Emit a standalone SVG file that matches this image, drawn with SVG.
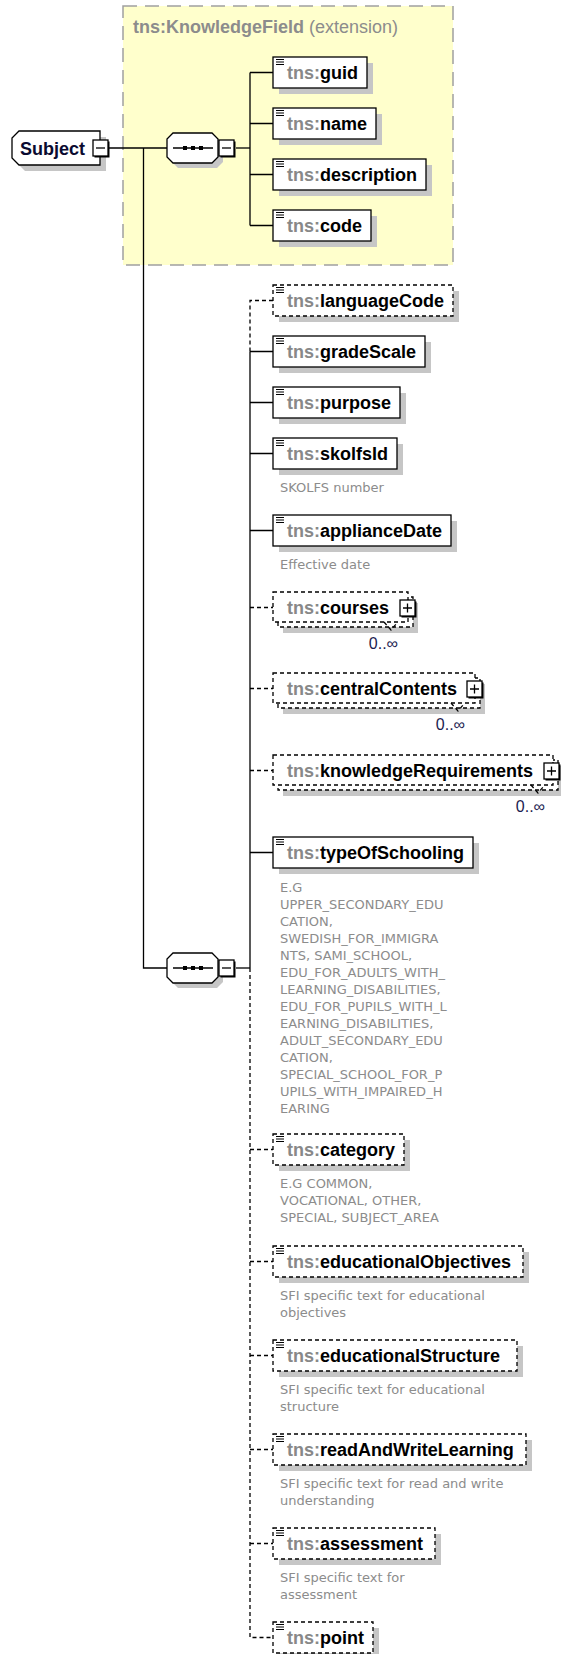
<svg xmlns="http://www.w3.org/2000/svg" xmlns:xlink="http://www.w3.org/1999/xlink" width="561" height="1654" viewBox="0 0 561 1654">
<style>
.bg{fill:#fff}
.box{fill:#fff;stroke:#000;stroke-width:1.3}
.opt{stroke-dasharray:4 3}
.sh{fill:#c6c6c6}
.ln{stroke:#000;stroke-width:1.3;fill:none}
.dl{stroke-dasharray:4 3}
.lbl{font-family:"Liberation Sans",Arial,sans-serif;font-size:18px}
.ns{fill:#888;font-weight:bold}
.nm{font-weight:bold;fill:#000}
.ann{font-family:"DejaVu Sans",Verdana,sans-serif;font-size:13px;fill:#8c8c8c}
.card{font-family:"Liberation Sans",Arial,sans-serif;font-size:16px;fill:#1c1c50}
.ttl{font-family:"Liberation Sans",Arial,sans-serif;font-size:18px;fill:#8c8c8c}
</style>
<defs>
<path id="ic" d="M0 0.5h8M0 3h8M0 5.5h8" stroke="#000" stroke-width="1.1" fill="none"/>
<g id="minus"><rect x="1.5" y="1.5" width="15" height="16" fill="#000"/><rect x="0" y="0" width="15" height="16" fill="#fff" stroke="#000" stroke-width="1.3"/><path d="M3 8h9" stroke="#000" stroke-width="1.3"/></g>
<g id="plus"><rect x="1.5" y="1.5" width="15" height="16" fill="#000"/><rect x="0" y="0" width="15" height="16" fill="#fff" stroke="#000" stroke-width="1.3"/><path d="M3 8h9M7.5 3.5v9" stroke="#000" stroke-width="1.3"/></g>
<g id="seq">
<polygon points="11,-10 50,-10 56,-4 56,14 50,20 11,20 5,14 5,-4" fill="#c6c6c6"/>
<polygon points="6,-15 45,-15 51,-9 51,9 45,15 6,15 0,9 0,-9" fill="#fff" stroke="#000" stroke-width="1.3"/>
<path d="M6 0H46" stroke="#000" stroke-width="1.3"/>
<rect x="16" y="-2" width="4" height="4" fill="#000"/><rect x="24" y="-2" width="4" height="4" fill="#000"/><rect x="32" y="-2" width="4" height="4" fill="#000"/>
<use xlink:href="#minus" x="52" y="-8"/>
</g>
</defs>
<rect class="bg" x="0" y="0" width="561" height="1654"/>

<g id="extension">
<rect x="123" y="6" width="330" height="259" fill="#ffffcc" stroke="#a0a0a0" stroke-width="1.5" stroke-dasharray="14 8"/>
<text class="ttl" x="133" y="33"><tspan font-weight="bold">tns:KnowledgeField</tspan> (extension)</text>
</g>

<g id="connectors">
<path class="ln" d="M109 148H167"/>
<path class="ln" d="M143.5 148V968H167"/>
<path class="ln" d="M236 148H250"/>
<path class="ln" d="M250 72.5V225.5M250 72.5H273M250 123.5H273M250 174.5H273M250 225.5H273"/>
<path class="ln" d="M236 968H250"/>
<path class="ln dl" d="M273 300.5H250V351.5"/>
<path class="ln" d="M250 351.5V968"/>
<path class="ln dl" d="M250 968V1637.5H273"/>
<path class="ln" d="M250 351.5H273M250 402.5H273M250 453.5H273M250 530.5H273M250 852.5H273"/>
<path class="ln dl" d="M250 607.5H273M250 688.5H273M250 770.5H273M250 1149.5H273M250 1261.5H273M250 1355.5H273M250 1449.5H273M250 1543.5H273"/>
</g>

<g id="subject">
<polygon points="25,137 106,137 106,171 25,171 18,164 18,144" fill="#c6c6c6"/>
<polygon class="box" points="19,131 100,131 100,165 19,165 12,158 12,138"/>
<text class="lbl" x="20" y="155" font-weight="bold" fill="#0a0a30">Subject</text>
<use xlink:href="#minus" x="93" y="140"/>
</g>

<g id="sequence1"><use xlink:href="#seq" x="167" y="148"/></g>
<g id="sequence2"><use xlink:href="#seq" x="167" y="968"/></g>

<g id="guid">
<rect class="sh" x="279" y="63" width="94" height="31"/>
<rect class="box" x="273" y="57" width="94" height="31"/>
<use xlink:href="#ic" x="276" y="59"/>
<text class="lbl" x="287" y="78.5"><tspan class="ns">tns:</tspan><tspan class="nm">guid</tspan></text>
</g>
<g id="name">
<rect class="sh" x="279" y="114" width="103" height="31"/>
<rect class="box" x="273" y="108" width="103" height="31"/>
<use xlink:href="#ic" x="276" y="110"/>
<text class="lbl" x="287" y="129.5"><tspan class="ns">tns:</tspan><tspan class="nm">name</tspan></text>
</g>
<g id="description">
<rect class="sh" x="279" y="165" width="153" height="31"/>
<rect class="box" x="273" y="159" width="153" height="31"/>
<use xlink:href="#ic" x="276" y="161"/>
<text class="lbl" x="287" y="180.5"><tspan class="ns">tns:</tspan><tspan class="nm">description</tspan></text>
</g>
<g id="code">
<rect class="sh" x="279" y="216" width="98" height="31"/>
<rect class="box" x="273" y="210" width="98" height="31"/>
<use xlink:href="#ic" x="276" y="212"/>
<text class="lbl" x="287" y="231.5"><tspan class="ns">tns:</tspan><tspan class="nm">code</tspan></text>
</g>

<g id="languageCode">
<rect class="sh" x="279" y="291" width="180" height="31"/>
<rect class="box opt" x="273" y="285" width="180" height="31"/>
<use xlink:href="#ic" x="276" y="287"/>
<text class="lbl" x="287" y="306.5"><tspan class="ns">tns:</tspan><tspan class="nm">languageCode</tspan></text>
</g>
<g id="gradeScale">
<rect class="sh" x="279" y="342" width="152" height="31"/>
<rect class="box" x="273" y="336" width="152" height="31"/>
<use xlink:href="#ic" x="276" y="338"/>
<text class="lbl" x="287" y="357.5"><tspan class="ns">tns:</tspan><tspan class="nm">gradeScale</tspan></text>
</g>
<g id="purpose">
<rect class="sh" x="279" y="393" width="127" height="31"/>
<rect class="box" x="273" y="387" width="127" height="31"/>
<use xlink:href="#ic" x="276" y="389"/>
<text class="lbl" x="287" y="408.5"><tspan class="ns">tns:</tspan><tspan class="nm">purpose</tspan></text>
</g>
<g id="skolfsId">
<rect class="sh" x="279" y="444" width="124" height="31"/>
<rect class="box" x="273" y="438" width="124" height="31"/>
<use xlink:href="#ic" x="276" y="440"/>
<text class="lbl" x="287" y="459.5"><tspan class="ns">tns:</tspan><tspan class="nm">skolfsId</tspan></text>
<text class="ann" x="280" y="492">SKOLFS number</text>
</g>
<g id="applianceDate">
<rect class="sh" x="279" y="521" width="178" height="31"/>
<rect class="box" x="273" y="515" width="178" height="31"/>
<use xlink:href="#ic" x="276" y="517"/>
<text class="lbl" x="287" y="536.5"><tspan class="ns">tns:</tspan><tspan class="nm">applianceDate</tspan></text>
<text class="ann" x="280" y="569">Effective date</text>
</g>

<g id="courses">
<rect class="sh" x="283" y="603" width="135" height="30"/>
<rect class="box opt" x="278" y="597" width="135" height="30"/>
<rect class="box opt" x="273" y="592" width="135" height="30"/>
<path class="ln dl" d="M384 622L391 630L397 623"/>
<text class="lbl" x="287" y="614"><tspan class="ns">tns:</tspan><tspan class="nm">courses</tspan></text>
<use xlink:href="#plus" x="400" y="600"/>
<text class="card" x="398" y="649" text-anchor="end">0..∞</text>
</g>
<g id="centralContents">
<rect class="sh" x="283" y="684" width="202" height="30"/>
<rect class="box opt" x="278" y="678" width="202" height="30"/>
<rect class="box opt" x="273" y="673" width="202" height="30"/>
<path class="ln dl" d="M451 703L458 711L464 704"/>
<text class="lbl" x="287" y="695"><tspan class="ns">tns:</tspan><tspan class="nm">centralContents</tspan></text>
<use xlink:href="#plus" x="467" y="681"/>
<text class="card" x="465" y="730" text-anchor="end">0..∞</text>
</g>
<g id="knowledgeRequirements">
<rect class="sh" x="283" y="766" width="280" height="30"/>
<rect class="box opt" x="278" y="760" width="280" height="30"/>
<rect class="box opt" x="273" y="755" width="280" height="30"/>
<path class="ln dl" d="M531 785L538 793L544 786"/>
<text class="lbl" x="287" y="777"><tspan class="ns">tns:</tspan><tspan class="nm">knowledgeRequirements</tspan></text>
<use xlink:href="#plus" x="544" y="763"/>
<text class="card" x="545" y="812" text-anchor="end">0..∞</text>
</g>

<g id="typeOfSchooling">
<rect class="sh" x="279" y="843" width="200" height="31"/>
<rect class="box" x="273" y="837" width="200" height="31"/>
<use xlink:href="#ic" x="276" y="839"/>
<text class="lbl" x="287" y="858.5"><tspan class="ns">tns:</tspan><tspan class="nm">typeOfSchooling</tspan></text>
<text class="ann" x="280" y="892"><tspan x="280">E.G</tspan><tspan x="280" dy="17">UPPER_SECONDARY_EDU</tspan><tspan x="280" dy="17">CATION,</tspan><tspan x="280" dy="17">SWEDISH_FOR_IMMIGRA</tspan><tspan x="280" dy="17">NTS, SAMI_SCHOOL,</tspan><tspan x="280" dy="17">EDU_FOR_ADULTS_WITH_</tspan><tspan x="280" dy="17">LEARNING_DISABILITIES,</tspan><tspan x="280" dy="17">EDU_FOR_PUPILS_WITH_L</tspan><tspan x="280" dy="17">EARNING_DISABILITIES,</tspan><tspan x="280" dy="17">ADULT_SECONDARY_EDU</tspan><tspan x="280" dy="17">CATION,</tspan><tspan x="280" dy="17">SPECIAL_SCHOOL_FOR_P</tspan><tspan x="280" dy="17">UPILS_WITH_IMPAIRED_H</tspan><tspan x="280" dy="17">EARING</tspan></text>
</g>
<g id="category">
<rect class="sh" x="279" y="1140" width="131" height="31"/>
<rect class="box opt" x="273" y="1134" width="131" height="31"/>
<use xlink:href="#ic" x="276" y="1136"/>
<text class="lbl" x="287" y="1155.5"><tspan class="ns">tns:</tspan><tspan class="nm">category</tspan></text>
<text class="ann" x="280" y="1188"><tspan x="280">E.G COMMON,</tspan><tspan x="280" dy="17">VOCATIONAL, OTHER,</tspan><tspan x="280" dy="17">SPECIAL, SUBJECT_AREA</tspan></text>
</g>
<g id="educationalObjectives">
<rect class="sh" x="279" y="1252" width="250" height="31"/>
<rect class="box opt" x="273" y="1246" width="250" height="31"/>
<use xlink:href="#ic" x="276" y="1248"/>
<text class="lbl" x="287" y="1267.5"><tspan class="ns">tns:</tspan><tspan class="nm">educationalObjectives</tspan></text>
<text class="ann" x="280" y="1300"><tspan x="280">SFI specific text for educational</tspan><tspan x="280" dy="17">objectives</tspan></text>
</g>
<g id="educationalStructure">
<rect class="sh" x="279" y="1346" width="244" height="31"/>
<rect class="box opt" x="273" y="1340" width="244" height="31"/>
<use xlink:href="#ic" x="276" y="1342"/>
<text class="lbl" x="287" y="1361.5"><tspan class="ns">tns:</tspan><tspan class="nm">educationalStructure</tspan></text>
<text class="ann" x="280" y="1394"><tspan x="280">SFI specific text for educational</tspan><tspan x="280" dy="17">structure</tspan></text>
</g>
<g id="readAndWriteLearning">
<rect class="sh" x="279" y="1440" width="253" height="31"/>
<rect class="box opt" x="273" y="1434" width="253" height="31"/>
<use xlink:href="#ic" x="276" y="1436"/>
<text class="lbl" x="287" y="1455.5"><tspan class="ns">tns:</tspan><tspan class="nm">readAndWriteLearning</tspan></text>
<text class="ann" x="280" y="1488"><tspan x="280">SFI specific text for read and write</tspan><tspan x="280" dy="17">understanding</tspan></text>
</g>
<g id="assessment">
<rect class="sh" x="279" y="1534" width="162" height="31"/>
<rect class="box opt" x="273" y="1528" width="162" height="31"/>
<use xlink:href="#ic" x="276" y="1530"/>
<text class="lbl" x="287" y="1549.5"><tspan class="ns">tns:</tspan><tspan class="nm">assessment</tspan></text>
<text class="ann" x="280" y="1582"><tspan x="280">SFI specific text for</tspan><tspan x="280" dy="17">assessment</tspan></text>
</g>
<g id="point">
<rect class="sh" x="279" y="1628" width="100" height="31"/>
<rect class="box opt" x="273" y="1622" width="100" height="31"/>
<use xlink:href="#ic" x="276" y="1624"/>
<text class="lbl" x="287" y="1643.5"><tspan class="ns">tns:</tspan><tspan class="nm">point</tspan></text>
</g>
</svg>
